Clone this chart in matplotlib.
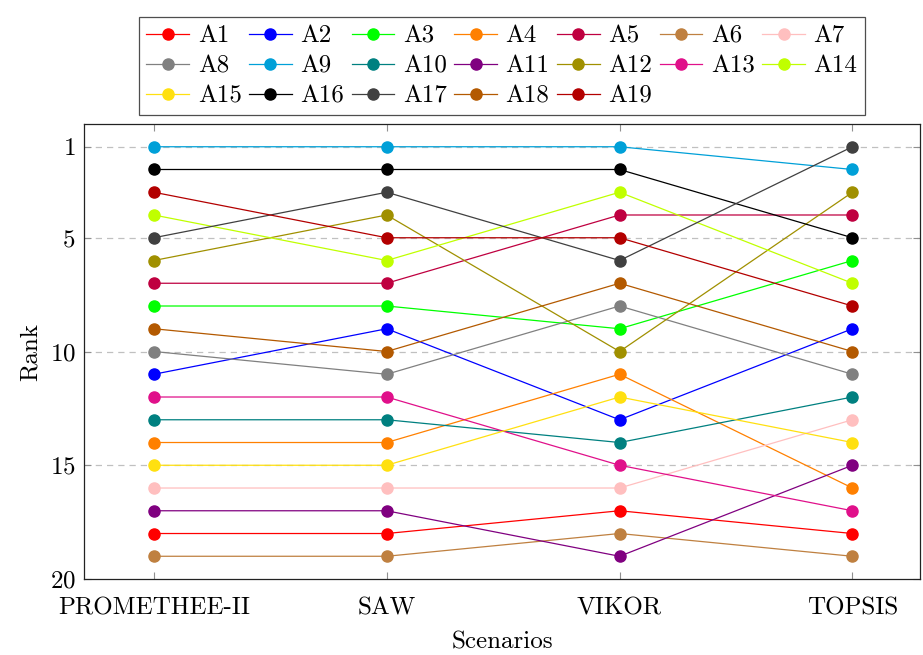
import matplotlib
matplotlib.use('Agg')
from matplotlib import pyplot as plt

plt.rcParams['font.family'] = ['cmr10', 'DejaVu Serif']
plt.rcParams['mathtext.fontset'] = 'cm'
plt.rcParams['axes.formatter.use_mathtext'] = True

scenarios = ['PROMETHEE-II', 'SAW', 'VIKOR', 'TOPSIS']
alternatives = ['A%d' % i for i in range(1, 20)]

# rank of each alternative per scenario (PROMETHEE-II, SAW, VIKOR, TOPSIS)
ranks = {
    'A1': [18, 18, 17, 18],
    'A2': [11, 9, 13, 9],
    'A3': [8, 8, 9, 6],
    'A4': [14, 14, 11, 16],
    'A5': [7, 7, 4, 4],
    'A6': [19, 19, 18, 19],
    'A7': [16, 16, 16, 13],
    'A8': [10, 11, 8, 11],
    'A9': [1, 1, 1, 2],
    'A10': [13, 13, 14, 12],
    'A11': [17, 17, 19, 15],
    'A12': [6, 4, 10, 3],
    'A13': [12, 12, 15, 17],
    'A14': [4, 6, 3, 7],
    'A15': [15, 15, 12, 14],
    'A16': [2, 2, 2, 5],
    'A17': [5, 3, 6, 1],
    'A18': [9, 10, 7, 10],
    'A19': [3, 5, 5, 8],
}

colors = ['#ff0000', '#0000ff', '#00ff00', '#ff8000', '#bf0040', '#bf8040',
          '#ffbfbf', '#808080', '#00a0d8', '#008080', '#800080', '#a09000',
          '#e0108a', '#c0ff00', '#ffe010', '#000000', '#404040', '#b35900',
          '#b30000']

NCOL = 7
FS = 18


def main():
    fig = plt.figure(figsize=(9.23, 6.55), dpi=100)
    ax = fig.add_axes([0.091, 0.116, 0.9057, 0.6947])

    x = list(range(len(scenarios)))
    lines = []
    for name, color in zip(alternatives, colors):
        ln, = ax.plot(x, ranks[name], color=color, lw=0.9, marker='o', ms=8,
                      label=name, zorder=3)
        lines.append(ln)

    ax.set_xlim(-0.3, 3.29)
    ax.set_ylim(20, 0)
    ax.set_xticks(x)
    ax.set_xticklabels(scenarios)
    ax.set_yticks([1, 5, 10, 15, 20])
    for r in [1, 5, 10, 15]:
        ax.axhline(r, color='#c0c0c0', lw=0.9, ls=(0, (5, 4)), zorder=1)
    ax.tick_params(axis='both', direction='in', labelsize=FS, color='#909090',
                   length=5, top=True, right=True)
    ax.tick_params(axis='x', pad=13)
    ax.tick_params(axis='y', pad=6)
    ax.set_xlabel('Scenarios', fontsize=FS, labelpad=9)
    ax.set_ylabel('Rank', fontsize=FS, labelpad=6)
    for s in ax.spines.values():
        s.set_linewidth(0.9)
        s.set_color('#222222')

    # legend is filled row by row, matplotlib fills columns, so reorder
    order = [i for c in range(NCOL) for i in range(c, len(lines), NCOL)]
    leg = ax.legend([lines[i] for i in order], [alternatives[i] for i in order],
                    loc='lower center', bbox_to_anchor=(0.5, 1.02), ncol=NCOL,
                    fontsize=FS, frameon=True, fancybox=False,
                    edgecolor='#222222', handlelength=1.7, handletextpad=0.35,
                    columnspacing=0.3, labelspacing=0.3, borderpad=0.3,
                    borderaxespad=0)
    leg.get_frame().set_linewidth(0.9)

    fig.savefig('out.png', dpi=100)
    plt.close('all')


if __name__ == '__main__':
    main()
